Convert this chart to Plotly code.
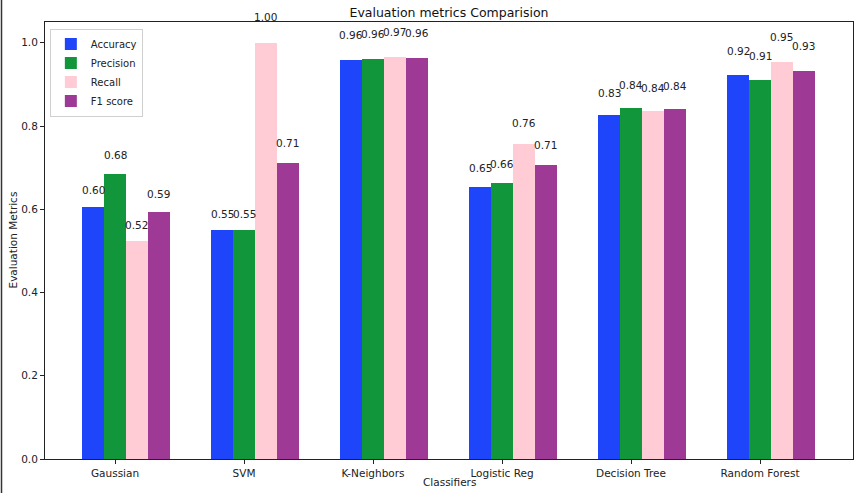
import plotly.graph_objects as go

classifiers = ["Gaussian", "SVM", "K-Neighbors", "Logistic Reg", "Decision Tree", "Random Forest"]
accuracy = [0.605, 0.550, 0.959, 0.654, 0.826, 0.923]
precision = [0.684, 0.550, 0.962, 0.664, 0.844, 0.911]
recall = [0.524, 1.000, 0.966, 0.757, 0.837, 0.954]
f1_score = [0.594, 0.711, 0.964, 0.707, 0.841, 0.933]
series_names = ["Accuracy", "Precision", "Recall", "F1 score"]
colors = ["#1f45fa", "#11963c", "#ffccd5", "#9e3a96"]
y_ticks = [0.0, 0.2, 0.4, 0.6, 0.8, 1.0]

series = [accuracy, precision, recall, f1_score]
w = 0.17
idx = list(range(len(classifiers)))

fig = go.Figure()
annotations = []
for k, (name, vals, col) in enumerate(zip(series_names, series, colors)):
    off = (k - 1) * w
    fig.add_trace(go.Bar(
        x=idx, y=vals, name=name, width=w, offset=off - w / 2,
        marker=dict(color=col, line=dict(width=0)),
    ))
    for i, v in zip(idx, vals):
        annotations.append(dict(
            x=i + off, y=v * 1.05, xref="x", yref="y", text=f"{v:.2f}",
            showarrow=False, yanchor="bottom", xanchor="center",
            font=dict(size=10.5, color="#222"), yshift=-3,
        ))

L, R, T, B = 45, 3, 22, 34
W, H = 856, 493
pw, ph = W - L - R, H - T - B

# axis titles
annotations.append(dict(text="Classifiers", xref="paper", yref="paper", x=0.5, y=-(B - 3) / ph,
                        xanchor="center", yanchor="bottom", showarrow=False,
                        font=dict(size=10.5, color="#222")))
annotations.append(dict(text="Evaluation Metrics", xref="paper", yref="paper", x=-(L - 12) / pw, y=0.5,
                        xanchor="center", yanchor="middle", textangle=-90, showarrow=False,
                        font=dict(size=10.5, color="#222")))

fig.update_layout(
    width=W, height=H,
    margin=dict(l=L, r=R, t=T, b=B, pad=0, autoexpand=False),
    barmode="overlay",
    plot_bgcolor="white", paper_bgcolor="white",
    font=dict(family="DejaVu Sans", size=10.5, color="#222"),
    title=dict(text="Evaluation metrics Comparision", x=(L + pw / 2) / W, xanchor="center",
               xref="container", yref="container",
               y=1 - 13 / H, yanchor="middle", font=dict(size=12.5, color="#111")),
    showlegend=True,
    legend=dict(x=0.006, y=0.985, xanchor="left", yanchor="top",
                bgcolor="rgba(255,255,255,0.9)", bordercolor="#d0d0d0", borderwidth=1,
                font=dict(size=10), tracegroupgap=0, itemwidth=30),
    annotations=annotations,
    bargap=0,
)
fig.update_xaxes(
    range=[-0.543, 5.721], tickvals=idx, ticktext=classifiers, automargin=False,
    showline=True, linecolor="#222", linewidth=1, mirror=True,
    ticks="outside", ticklen=4, tickcolor="#222", showgrid=False, zeroline=False,
)
fig.update_yaxes(
    range=[0, 1.05], tickvals=y_ticks, ticktext=[f"{t:.1f}" for t in y_ticks], automargin=False,
    showline=True, linecolor="#222", linewidth=1, mirror=True,
    ticks="outside", ticklen=4, tickcolor="#222", showgrid=False, zeroline=False,
)
# left border line of the screenshot frame
fig.add_shape(type="line", xref="paper", yref="paper",
              x0=(1.5 - L) / pw, x1=(1.5 - L) / pw, y0=-B / ph, y1=1 + T / ph,
              line=dict(color="#333", width=1.5))

fig.write_html("out.html", config={"displayModeBar": False},
               post_script="document.body.style.margin='0px';document.body.style.overflow='hidden';")
